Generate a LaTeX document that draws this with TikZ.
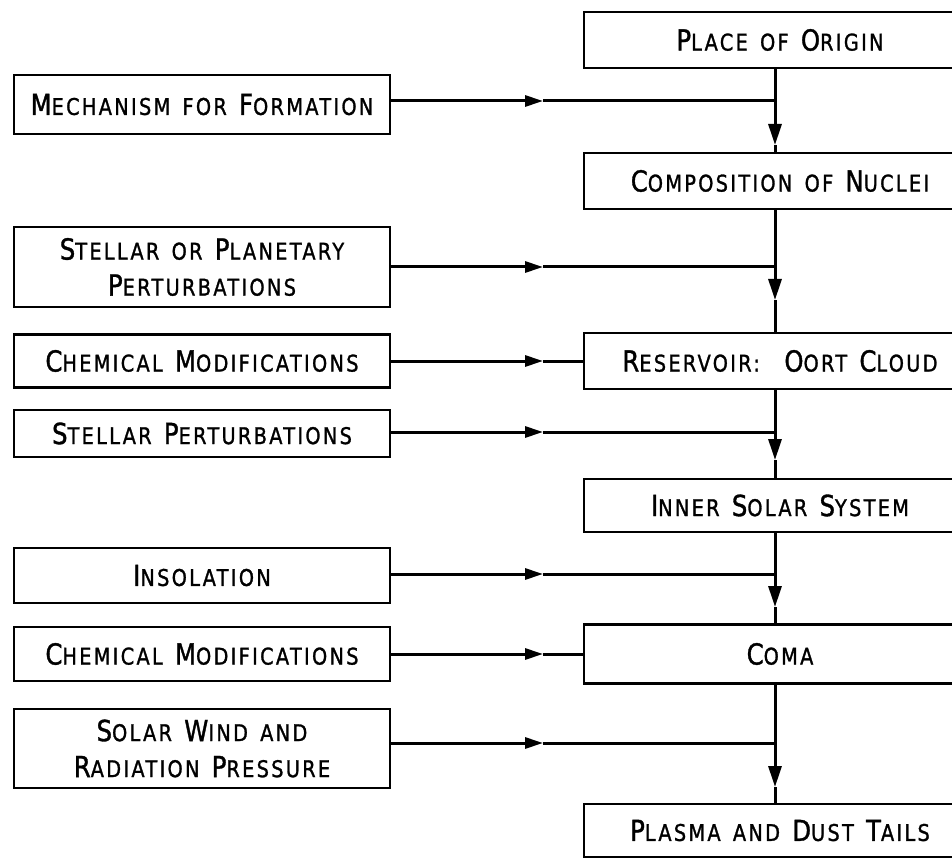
\documentclass[tikz,border=0pt]{standalone}
\usepackage{fontspec}
\usetikzlibrary{arrows.meta}
\newfontfamily\lr[FakeStretch=0.84,LetterSpace=10,WordSpace=1.45,FakeBold=1.2]{DejaVu Sans}
\newcommand{\Bg}[1]{{\fontsize{29}{36}\selectfont #1}}
\begin{document}
\begin{tikzpicture}[x=1pt,y=-1pt,
  box/.style={draw, line width=2.9pt, inner sep=0pt, font=\lr\fontsize{23}{36}\selectfont, align=center},
  lbox/.style={box, minimum width=376pt},
  rbox/.style={box, minimum width=392pt},
  ln/.style={line width=3pt},
  harr/.style={ln, -{Triangle[length=18pt,width=11pt]}},
  varr/.style={ln, -{Triangle[length=21pt,width=13pt]}}]
\useasboundingbox (0,0) rectangle (952,858);
\clip (0,0) rectangle (952,858);
% right column
\node[rbox, minimum height=56pt] (R1) at (780,40) {\Bg{P}LACE OF \Bg{O}RIGIN};
\node[rbox, minimum height=56pt] (R2) at (780,181) {\Bg{C}OMPOSITION OF \Bg{N}UCLEI};
\node[rbox, minimum height=56pt] (R3) at (780,361) {\Bg{R}ESERVOIR:\ \ \Bg{O}ORT \Bg{C}LOUD};
\node[rbox, minimum height=53pt] (R4) at (780,505.5) {\Bg{I}NNER \Bg{S}OLAR \Bg{S}YSTEM};
\node[rbox, minimum height=59pt] (R5) at (780,654) {\Bg{C}OMA};
\node[rbox, minimum height=53pt] (R6) at (780,830.5) {\Bg{P}LASMA AND \Bg{D}UST \Bg{T}AILS};
% left column
\node[lbox, minimum height=59pt] (L1) at (202,104.5) {\Bg{M}ECHANISM FOR \Bg{F}ORMATION};
\node[lbox, minimum height=80pt] (L2) at (202,267) {\Bg{S}TELLAR OR \Bg{P}LANETARY\\\Bg{P}ERTURBATIONS};
\node[lbox, minimum height=53pt] (L3) at (202,361) {\Bg{C}HEMICAL \Bg{M}ODIFICATIONS};
\node[lbox, minimum height=47pt] (L4) at (202,433.5) {\Bg{S}TELLAR \Bg{P}ERTURBATIONS};
\node[lbox, minimum height=55pt] (L5) at (202,575.5) {\Bg{I}NSOLATION};
\node[lbox, minimum height=54pt] (L6) at (202,654) {\Bg{C}HEMICAL \Bg{M}ODIFICATIONS};
\node[lbox, minimum height=79pt] (L7) at (202,748.5) {\Bg{S}OLAR \Bg{W}IND AND\\\Bg{R}ADIATION \Bg{P}RESSURE};
% junctions and arrow tips
\coordinate (j1) at (775,101); \coordinate (v1) at (775,145); \coordinate (h1) at (543,101);
\coordinate (j2) at (775,267); \coordinate (v2) at (775,300); \coordinate (h2) at (543,267);
\coordinate (h3) at (543,361);
\coordinate (j4) at (775,432); \coordinate (v4) at (775,460); \coordinate (h4) at (543,432);
\coordinate (j5) at (775,574); \coordinate (v5) at (775,607); \coordinate (h5) at (543,574);
\coordinate (h6) at (543,654);
\coordinate (j7) at (775,743); \coordinate (v7) at (775,787); \coordinate (h7) at (543,743);
% vertical flow
\draw[ln] (R1.south -| j1) -- (j1); \draw[varr] (j1) -- (v1); \draw[ln] (v1) -- (R2.north -| j1);
\draw[ln] (R2.south -| j2) -- (j2); \draw[varr] (j2) -- (v2); \draw[ln] (v2) -- (R3.north -| j2);
\draw[ln] (R3.south -| j4) -- (j4); \draw[varr] (j4) -- (v4); \draw[ln] (v4) -- (R4.north -| j4);
\draw[ln] (R4.south -| j5) -- (j5); \draw[varr] (j5) -- (v5); \draw[ln] (v5) -- (R5.north -| j5);
\draw[ln] (R5.south -| j7) -- (j7); \draw[varr] (j7) -- (v7); \draw[ln] (v7) -- (R6.north -| j7);
% horizontal inputs
\draw[harr] (L1.east |- j1) -- (h1); \draw[ln] (h1) -- (j1);
\draw[harr] (L2.east |- j2) -- (h2); \draw[ln] (h2) -- (j2);
\draw[harr] (L3.east) -- (h3); \draw[ln] (h3) -- (R3.west);
\draw[harr] (L4.east |- j4) -- (h4); \draw[ln] (h4) -- (j4);
\draw[harr] (L5.east |- j5) -- (h5); \draw[ln] (h5) -- (j5);
\draw[harr] (L6.east) -- (h6); \draw[ln] (h6) -- (R5.west);
\draw[harr] (L7.east |- j7) -- (h7); \draw[ln] (h7) -- (j7);
\end{tikzpicture}
\end{document}
